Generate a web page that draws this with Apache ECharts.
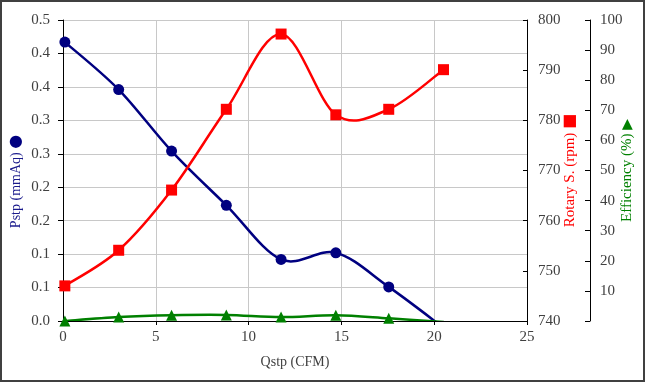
<!DOCTYPE html>
<html><head><meta charset="utf-8">
<script src="https://cdn.jsdelivr.net/npm/echarts@6/dist/echarts.min.js"></script>
<style>
html,body{margin:0;padding:0;background:#fff}
#c{position:absolute;left:0;top:0;width:645px;height:382px;}
#frame{position:absolute;left:0;top:0;width:645px;height:382px;box-sizing:border-box;border:2px solid #404040;pointer-events:none;}
</style>
</head><body><div id="c"></div><div id="frame"></div>
<script>
const qstp = [0.1, 3.0, 5.85, 8.8, 11.75, 14.7, 17.55, 20.5];
const pstp = [0.417, 0.346, 0.254, 0.173, 0.092, 0.102, 0.051, -0.01];
const rotary = [747.0, 754.1, 766.1, 782.2, 797.2, 781.1, 782.2, 790.1];
const efficiency = [0, 1.3, 1.9, 2.0, 1.3, 1.9, 0.9, -0.3];
const pstpTickLabels = ['0.0','0.1','0.1','0.2','0.2','0.3','0.3','0.4','0.4','0.5'];

const FONT = '"Liberation Serif", "Times New Roman", serif';
const GLYPH = '"DejaVu Sans", sans-serif';
const labelColor = '#404040';

function pairs(xs, ys){ return xs.map((x,i)=>[x, ys[i]]); }

// Smooth (Catmull-Rom style) curve through the data, drawn segment by segment via the axis scales
function smoothCurve(xs, ys, color) {
  return function(params, api) {
    const i = params.dataIndex;
    const n = xs.length;
    if (i >= n - 1) return null;
    const P = k => api.coord([xs[Math.max(0, Math.min(n - 1, k))], ys[Math.max(0, Math.min(n - 1, k))]]);
    const p0 = P(i - 1), p1 = P(i), p2 = P(i + 1), p3 = P(i + 2);
    return {
      type: 'bezierCurve',
      shape: {
        x1: p1[0], y1: p1[1], x2: p2[0], y2: p2[1],
        cpx1: p1[0] + (p2[0] - p0[0]) / 6, cpy1: p1[1] + (p2[1] - p0[1]) / 6,
        cpx2: p2[0] - (p3[0] - p1[0]) / 6, cpy2: p2[1] - (p3[1] - p1[1]) / 6
      },
      style: {fill: null, stroke: color, lineWidth: 2.5, lineCap: 'round'}
    };
  };
}

const chart = echarts.init(document.getElementById('c'), null, {renderer:'canvas'});
chart.setOption({
  animation: false,
  backgroundColor: '#fff',
  grid: {left: 63, right: 118, top: 20, bottom: 61, containLabel: false, outerBoundsMode: 'none'},
  xAxis: {
    type: 'value', min: 0, max: 25, interval: 5,
    name: 'Qstp (CFM)', nameLocation: 'middle', nameGap: 34, nameMoveOverlap: false,
    nameTextStyle: {color: labelColor, fontFamily: FONT, fontSize: 14},
    axisLine: {show: true, onZero: false, lineStyle: {color: '#000', width: 1}},
    axisTick: {show: true, inside: false, length: 4, lineStyle: {color: '#000'}},
    axisLabel: {color: labelColor, fontFamily: FONT, fontSize: 15, margin: 9},
    splitLine: {show: true, lineStyle: {color: '#c8c8c8', width: 1}}
  },
  yAxis: [
    {
      type: 'value', min: 0, max: 0.45, interval: 0.05, position: 'left',
      name: '{t|Pstp (mmAq)} {m|●}', nameLocation: 'middle', nameGap: 39, nameMoveOverlap: false,
      nameTextStyle: {color: '#1a1a8c', fontFamily: FONT, fontSize: 14, padding: [0, 22, 0, 0],
        rich: {t: {color: '#1a1a8c', fontFamily: FONT, fontSize: 14}, m: {color: '#000080', fontFamily: GLYPH, fontSize: 16}}},
      axisLine: {show: true, onZero: false, lineStyle: {color: '#000', width: 1}},
      axisTick: {show: true, inside: false, length: 5, lineStyle: {color: '#000'}},
      axisLabel: {color: labelColor, fontFamily: FONT, fontSize: 15, margin: 13,
        formatter: (v, i) => pstpTickLabels[i] !== undefined ? pstpTickLabels[i] : ''},
      splitLine: {show: true, lineStyle: {color: '#c8c8c8', width: 1}}
    },
    {
      type: 'value', min: 740, max: 800, interval: 10, position: 'right',
      name: '{t|Rotary S. (rpm)} {m|■}', nameLocation: 'middle', nameGap: 35, nameMoveOverlap: false,
      nameTextStyle: {color: '#ff0000', fontFamily: FONT, fontSize: 15,
        rich: {t: {color: '#ff0000', fontFamily: FONT, fontSize: 15}, m: {color: '#ff0000', fontFamily: GLYPH, fontSize: 16}}},
      axisLine: {show: true, onZero: false, lineStyle: {color: '#000', width: 1}},
      axisTick: {show: true, inside: true, length: 4, lineStyle: {color: '#000'}},
      axisLabel: {color: labelColor, fontFamily: FONT, fontSize: 15, margin: 11},
      splitLine: {show: false}
    },
    {
      type: 'value', min: 0, max: 100, interval: 10, position: 'right', offset: 63,
      name: '{t|Efficiency (%)} {m|▶}', nameLocation: 'middle', nameGap: 30, nameMoveOverlap: false,
      nameTextStyle: {color: '#008000', fontFamily: FONT, fontSize: 15,
        rich: {t: {color: '#008000', fontFamily: FONT, fontSize: 15}, m: {color: '#008000', fontFamily: GLYPH, fontSize: 14}}},
      axisLine: {show: true, onZero: false, lineStyle: {color: '#000', width: 1}},
      axisTick: {show: true, inside: true, length: 5, lineStyle: {color: '#000'}},
      axisLabel: {color: labelColor, fontFamily: FONT, fontSize: 15, margin: 10,
        formatter: v => v === 0 ? '' : String(v)},
      splitLine: {show: false}
    }
  ],
  series: [
    {
      name: 'Pstp curve', type: 'custom', yAxisIndex: 0, data: pairs(qstp, pstp), clip: true,
      encode: {x: 0, y: 1}, renderItem: smoothCurve(qstp, pstp, '#000080'), silent: true
    },
    {
      name: 'Rotary curve', type: 'custom', yAxisIndex: 1, data: pairs(qstp, rotary), clip: true,
      encode: {x: 0, y: 1}, renderItem: smoothCurve(qstp, rotary, '#ff0000'), silent: true
    },
    {
      name: 'Efficiency curve', type: 'custom', yAxisIndex: 2, data: pairs(qstp, efficiency), clip: true,
      encode: {x: 0, y: 1}, renderItem: smoothCurve(qstp, efficiency, '#008000'), silent: true
    },
    {
      name: 'Pstp', type: 'line', yAxisIndex: 0, data: pairs(qstp, pstp),
      clip: true, symbol: 'circle', symbolSize: 11,
      lineStyle: {opacity: 0}, itemStyle: {color: '#000080'}
    },
    {
      name: 'Rotary', type: 'line', yAxisIndex: 1, data: pairs(qstp, rotary),
      clip: true, symbol: 'rect', symbolSize: 11,
      lineStyle: {opacity: 0}, itemStyle: {color: '#ff0000'}
    },
    {
      name: 'Efficiency', type: 'line', yAxisIndex: 2, data: pairs(qstp, efficiency),
      clip: true, symbol: 'triangle', symbolSize: 11,
      lineStyle: {opacity: 0}, itemStyle: {color: '#008000'}
    }
  ]
});
</script>
</body></html>
